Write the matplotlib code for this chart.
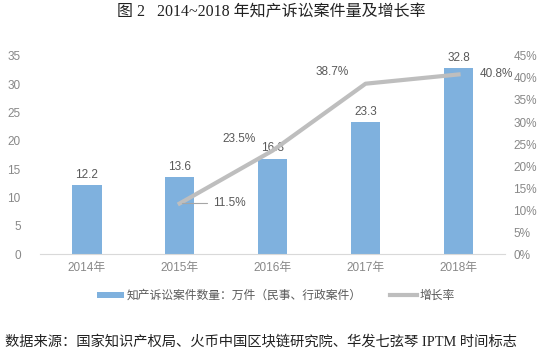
import matplotlib
matplotlib.use("Agg")
import matplotlib.pyplot as plt

plt.rcParams['font.family'] = ['Liberation Sans', 'Noto Sans CJK SC']

years = ["2014年", "2015年", "2016年", "2017年", "2018年"]
cases = [12.2, 13.6, 16.8, 23.3, 32.8]
growth_years = [1, 2, 3, 4]
growth = [11.5, 23.5, 38.7, 40.8]

bar_color = "#7FB1DE"
line_color = "#BEBEBE"
tick_color = "#888888"
label_color = "#595959"

fig = plt.figure(figsize=(5.43, 3.61), dpi=100)
ax = fig.add_axes([0.074, 0.296, 0.856, 0.549])
ax2 = ax.twinx()

x = list(range(len(years)))
ax.bar(x, cases, width=0.32, color=bar_color, zorder=2, label="知产诉讼案件数量：万件（民事、行政案件）")
for xi, v in zip(x, cases):
    ax.text(xi, v + 0.8, f"{v:.1f}", ha="center", va="bottom", fontsize=8.5, color=label_color)

ax.set_xlim(-0.5, 4.5)
ax.set_ylim(0, 35)
ax.set_yticks(range(0, 36, 5))
ax.set_xticks(x)
ax.set_xticklabels(years)
for s in ["top", "left", "right"]:
    ax.spines[s].set_visible(False)
ax.spines["bottom"].set_color("#D9D9D9")
ax.tick_params(axis="both", length=0, labelsize=8.5, colors=tick_color, pad=6)
ax.tick_params(axis="y", pad=14)

ax2.plot(growth_years, growth, color=line_color, lw=3, zorder=3, label="增长率")
ax2.set_ylim(0, 45)
ax2.set_yticks(range(0, 46, 5))
ax2.set_yticklabels([f"{v}%" for v in range(0, 46, 5)])
for s in ["top", "left", "right", "bottom"]:
    ax2.spines[s].set_visible(False)
ax2.tick_params(axis="y", length=0, labelsize=8.5, colors=tick_color, pad=6)

# growth labels
ax2.annotate(f"{growth[0]}%", xy=(growth_years[0], growth[0]), xytext=(growth_years[0] + 0.36, growth[0]),
             ha="left", va="center", fontsize=8.5, color=label_color,
             arrowprops=dict(arrowstyle="-", color="#A6A6A6", lw=0.8))
for gx, gv in zip(growth_years[1:3], growth[1:3]):
    ax2.annotate(f"{gv}%", xy=(gx, gv), xytext=(-24, 4), textcoords="offset points",
                 ha="center", va="bottom", fontsize=8.5, color=label_color)
ax2.annotate(f"{growth[3]}%", xy=(growth_years[3], growth[3]), xytext=(15, 0), textcoords="offset points",
             ha="left", va="center", fontsize=8.5, color=label_color)

h1, l1 = ax.get_legend_handles_labels()
h2, l2 = ax2.get_legend_handles_labels()
fig.legend(h1 + h2, l1 + l2, loc="center", bbox_to_anchor=(0.508, 0.18), ncol=2, frameon=False,
           fontsize=8.5, labelcolor=label_color, handlelength=2.3, handleheight=0.45,
           handletextpad=0.2, columnspacing=2.4)

fig.text(0.5, 0.965, "图 2   2014~2018 年知产诉讼案件量及增长率", ha="center", va="center",
         fontsize=11.5, color="#222222", family=["Liberation Serif", "Noto Sans CJK SC"])
fig.text(0.01, 0.053, "数据来源：国家知识产权局、火币中国区块链研究院、华发七弦琴 IPTM 时间标志", ha="left", va="center",
         fontsize=10.3, color="#222222", family=["Liberation Serif", "Noto Sans CJK SC"])

fig.savefig("out.png", dpi=100)
